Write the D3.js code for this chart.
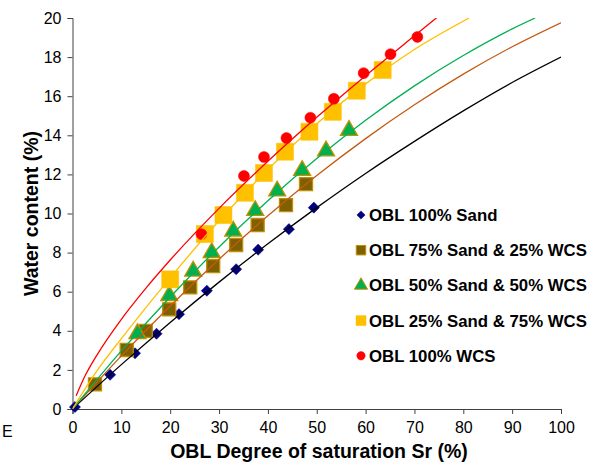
<!DOCTYPE html>
<html>
<head>
<meta charset="utf-8">
<script src="https://cdn.jsdelivr.net/npm/d3@7"></script>
<style>
  body { margin: 0; background: #fff; }
  svg { font-family: "Liberation Sans", Arial, sans-serif; }
</style>
</head>
<body>
<div id="chart"></div>
<script>
// series names
var seriesNames = ['OBL 100% Sand', 'OBL 75% Sand & 25% WCS', 'OBL 50% Sand & 50% WCS',
    'OBL 25% Sand & 75% WCS', 'OBL 100% WCS'];
// measured points (Sr %, water content %)
var sandX = [0.5, 7.7, 12.8, 17.2, 21.8, 27.5, 33.5, 38, 44.3, 49.4];
var sandY = [0.1, 1.75, 2.85, 3.85, 4.85, 6.05, 7.15, 8.15, 9.2, 10.3];
var s75X = [4.6, 11.1, 15, 19.8, 24.1, 28.8, 33.5, 37.9, 43.7, 47.8];
var s75Y = [1.26, 3.02, 4.0, 5.1, 6.22, 7.31, 8.39, 9.41, 10.43, 11.5];
var s50X = [13.3, 19.8, 24.7, 28.5, 32.9, 37.4, 41.9, 47, 51.9, 56.6];
var s50Y = [3.85, 5.8, 7.05, 8.0, 9.1, 10.15, 11.15, 12.2, 13.2, 14.25];
var s25X = [20, 27.1, 30.9, 35.3, 39.2, 43.5, 48.5, 53.3, 58.2, 63.5];
var s25Y = [6.63, 8.95, 9.92, 11.06, 12.07, 13.16, 14.18, 15.2, 16.28, 17.34];
var wcsX = [26.4, 35.1, 39.2, 43.8, 48.7, 53.5, 59.6, 65.1, 70.6];
var wcsY = [8.94, 11.92, 12.89, 13.86, 14.9, 15.87, 17.18, 18.15, 19.03];
// trend lines
var tSandX = [0, 10, 20, 30, 40, 50, 60, 70, 80, 90, 100];
var tSandY = [0, 2.27, 4.43, 6.49, 8.45, 10.3, 12.05, 13.69, 15.25, 16.7, 18.0];
var t75X = [0, 10, 20, 30, 40, 50, 60, 70, 80, 90, 100];
var t75Y = [0, 2.72, 5.27, 7.66, 9.88, 11.94, 13.83, 15.56, 17.13, 18.53, 19.76];
var t50X = [0, 10, 20, 30, 40, 50, 60, 70, 80, 90, 94.7];
var t50Y = [0, 2.97, 5.73, 8.29, 10.65, 12.81, 14.77, 16.53, 18.08, 19.44, 20];
var t25X = [0, 5, 10, 20, 30, 40, 50, 60, 70, 81.2];
var t25Y = [0, 1.95, 3.6, 6.71, 9.63, 12.25, 14.59, 16.63, 18.39, 20];
var tWcsX = [0.75, 2.5, 5, 10, 15, 20, 30, 40, 50, 60, 70, 74.5];
var tWcsY = [0.68, 1.66, 2.76, 4.59, 6.17, 7.62, 10.26, 12.67, 14.92, 17.05, 19.09, 20];
// ticks
var xTicks = [0, 10, 20, 30, 40, 50, 60, 70, 80, 90, 100];
var yTicks = [0, 2, 4, 6, 8, 10, 12, 14, 16, 18, 20];

var markerFill = ['#000080', '#7F6000', '#00B050', '#FFC000', '#FF0000'];
var markerStroke = ['#000080', '#BF9000', '#BF9000', '#FFC000', '#FF0000'];
var lineColor = ['#000000', '#C55A11', '#00B050', '#FFC000', '#FF0000'];
// diamond = square turned 45deg
var shapes = [d3.symbolSquare, d3.symbolSquare, d3.symbolTriangle, d3.symbolSquare, d3.symbolCircle];
var turn = [45, 0, 0, 0, 0];
var sizes = [62, 170, 125, 290, 95];
var legendSizes = [34, 90, 75, 100, 55];

var W = 602, H = 468;
var margin = {top: 18, left: 72.5, right: 41, bottom: 59};
var svg = d3.select('#chart').append('svg').attr('width', W).attr('height', H);

var x = d3.scaleLinear().domain([0, 100]).range([margin.left, W - margin.right]);
var y = d3.scaleLinear().domain([0, 20]).range([H - margin.bottom, margin.top]);

svg.append('defs').append('clipPath').attr('id', 'clip')
    .append('rect')
    .attr('x', x(0)).attr('y', y(20))
    .attr('width', x(100) - x(0)).attr('height', y(0) - y(20));

// axes
var gx = svg.append('g').attr('transform', 'translate(0,' + y(0) + ')')
    .call(d3.axisBottom(x).tickValues(xTicks).tickSize(5).tickPadding(8));
var gy = svg.append('g').attr('transform', 'translate(' + x(0) + ',0)')
    .call(d3.axisLeft(y).tickValues(yTicks).tickSize(5).tickPadding(6));
[gx, gy].forEach(function (g) {
    g.select('.domain').attr('stroke', '#404040');
    g.selectAll('.tick line').attr('stroke', '#404040');
    g.selectAll('.tick text').attr('font-size', '16px').attr('fill', '#000')
        .attr('font-family', '"Liberation Sans", Arial, sans-serif');
});

var pts = [[sandX, sandY], [s75X, s75Y], [s50X, s50Y], [s25X, s25Y], [wcsX, wcsY]];
var trends = [[tSandX, tSandY], [t75X, t75Y], [t50X, t50Y], [t25X, t25Y], [tWcsX, tWcsY]];

// markers
pts.forEach(function (p, i) {
    var data = p[0].map(function (v, j) { return [v, p[1][j]]; });
    svg.append('g').selectAll('path').data(data).enter().append('path')
        .attr('transform', function (d) {
            return 'translate(' + x(d[0]) + ',' + y(d[1]) + ') rotate(' + turn[i] + ')';
        })
        .attr('d', d3.symbol().type(shapes[i]).size(sizes[i]))
        .attr('fill', markerFill[i])
        .attr('stroke', markerStroke[i])
        .attr('stroke-width', i === 1 || i === 2 ? 1.3 : 0.5);
});

// trend lines
var line = d3.line().x(function (d) { return x(d[0]); }).y(function (d) { return y(d[1]); })
    .curve(d3.curveMonotoneX);
trends.forEach(function (t, i) {
    var data = t[0].map(function (v, j) { return [v, t[1][j]]; });
    svg.append('path').datum(data)
        .attr('clip-path', 'url(#clip)')
        .attr('d', line)
        .attr('fill', 'none')
        .attr('stroke', lineColor[i])
        .attr('stroke-width', 1.3);
});

// legend
var lg = svg.append('g').attr('transform', 'translate(361,215)');
seriesNames.forEach(function (name, i) {
    var row = lg.append('g').attr('transform', 'translate(0,' + (i * 35.2) + ')');
    row.append('path')
        .attr('transform', 'rotate(' + turn[i] + ')')
        .attr('d', d3.symbol().type(shapes[i]).size(legendSizes[i]))
        .attr('fill', markerFill[i])
        .attr('stroke', markerStroke[i])
        .attr('stroke-width', i === 1 || i === 2 ? 1 : 0.5);
    row.append('text').attr('x', 8).attr('y', 6)
        .attr('font-size', '16.8px').attr('font-weight', 'bold')
        .text(name);
});

// axis titles
svg.append('text')
    .attr('x', 319).attr('y', 458)
    .attr('text-anchor', 'middle')
    .attr('font-size', '19.5px').attr('font-weight', 'bold')
    .text('OBL Degree of saturation Sr (%)');
svg.append('text')
    .attr('transform', 'translate(38,' + ((y(0) + y(20)) / 2) + ') rotate(-90)')
    .attr('text-anchor', 'middle')
    .attr('font-size', '19.5px').attr('font-weight', 'bold')
    .text('Water content (%)');
svg.append('text').attr('x', 2).attr('y', 437).attr('font-size', '16px').text('E');
</script>
</body>
</html>
